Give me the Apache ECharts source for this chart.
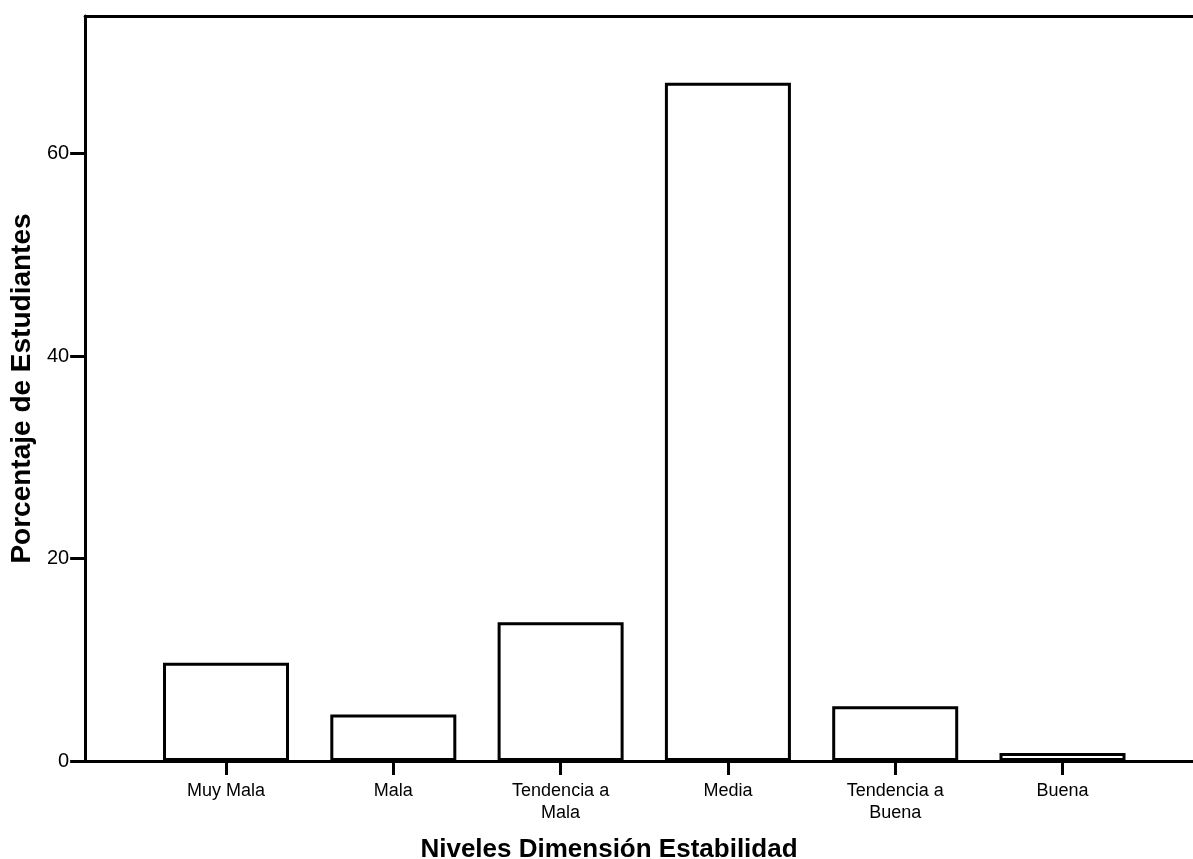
<!DOCTYPE html>
<html>
<head>
<meta charset="utf-8">
<script src="https://cdn.jsdelivr.net/npm/echarts@6/dist/echarts.min.js"></script>
<style>
html,body{margin:0;padding:0;background:#fff;}
#chart{width:1193px;height:859px;}
</style>
</head>
<body>
<div id="chart"></div>
<script>
var categories = ["Muy Mala", "Mala", "Tendencia a\nMala", "Media", "Tendencia a\nBuena", "Buena"];
var values = [9.7, 4.6, 13.7, 67.0, 5.4, 0.8];
var yTicks = [0, 20, 40, 60];
var positions = [1, 2, 3, 4, 5, 6];

var FONT = "Liberation Sans, Arial, sans-serif";
var chart = echarts.init(document.getElementById('chart'), null, {renderer: 'canvas'});
var data = positions.map(function (p, i) { return [p, values[i]]; });

var option = {
  backgroundColor: '#fff',
  animation: false,
  grid: {left: 85, right: 0, top: 16, bottom: 98, containLabel: false},
  title: {
    text: 'Niveles Dimensión Estabilidad',
    left: 604, top: 832, textAlign: 'center',
    textStyle: {fontFamily: FONT, fontSize: 26, fontWeight: 'bold', color: '#000'}
  },
  xAxis: [{
    type: 'value',
    min: 0.158, max: 6.78,
    splitLine: {show: false},
    axisLine: {show: true, lineStyle: {color: '#000', width: 3}},
    axisTick: {show: true, customValues: positions, length: 14, lineStyle: {color: '#000', width: 3}},
    axisLabel: {
      show: true, customValues: positions, margin: 19,
      fontFamily: FONT, fontSize: 18, color: '#000', lineHeight: 22,
      formatter: function (v) { return categories[Math.round(v) - 1] || ''; }
    }
  }, {
    type: 'value', position: 'top',
    min: 0.158, max: 6.78,
    splitLine: {show: false},
    axisLine: {show: true, onZero: false, lineStyle: {color: '#000', width: 3}},
    axisTick: {show: false}, axisLabel: {show: false}
  }],
  yAxis: {
    type: 'value', min: 0, max: 73.6, interval: 20,
    name: 'Porcentaje de Estudiantes', nameLocation: 'middle', nameGap: 44, nameRotate: 90,
    nameTextStyle: {fontFamily: FONT, fontSize: 28, fontWeight: 'bold', color: '#000'},
    splitLine: {show: false},
    axisLine: {show: true, lineStyle: {color: '#000', width: 3}},
    axisTick: {show: true, length: 15, lineStyle: {color: '#000', width: 3},
      customValues: yTicks},
    axisLabel: {fontFamily: FONT, fontSize: 20, color: '#000', margin: 16, customValues: yTicks}
  },
  series: [{
    type: 'bar',
    xAxisIndex: 0,
    data: data,
    barWidth: 126,
    itemStyle: {color: '#fff', borderColor: '#000', borderWidth: 3}
  }]
};
chart.setOption(option);
</script>
</body>
</html>
